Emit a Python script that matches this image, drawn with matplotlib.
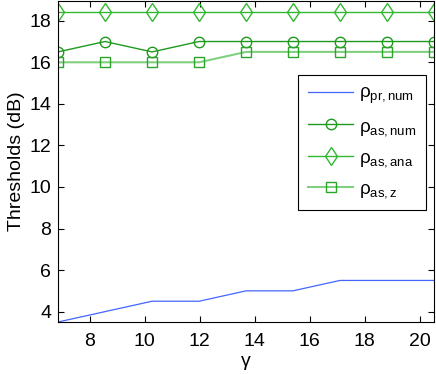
import matplotlib
matplotlib.use("Agg")
import matplotlib.pyplot as plt
import numpy as np

plt.rcParams['font.family'] = ['Liberation Sans', 'DejaVu Sans']
plt.rcParams['mathtext.fontset'] = 'custom'
plt.rcParams['mathtext.rm'] = 'Liberation Sans'
plt.rcParams['mathtext.it'] = 'Liberation Sans'

# gamma values (x axis)
gamma = [6.85, 8.56, 10.27, 11.98, 13.69, 15.39, 17.10, 18.81, 20.52]
# thresholds in dB
rho_pr_num = [3.5, 4.0, 4.5, 4.5, 5.0, 5.0, 5.5, 5.5, 5.5]
rho_as_num = [16.5, 17.0, 16.5, 17.0, 17.0, 17.0, 17.0, 17.0, 17.0]
rho_as_ana = [18.42, 18.42, 18.42, 18.42, 18.42, 18.42, 18.42, 18.42, 18.42]
rho_as_z = [16.0, 16.0, 16.0, 16.0, 16.5, 16.5, 16.5, 16.5, 16.5]

fig = plt.figure(figsize=(4.36, 3.74), dpi=100)
ax = fig.add_axes([58/436, 52/374, 376/436, 321/374])

ax.plot(gamma, rho_pr_num, '-', color='#4466ff', lw=0.9, label=r'ρ$_{\mathrm{pr,num}}$')
ax.plot(gamma, rho_as_num, '-o', color='#1f9a1f', lw=1, ms=7.5, mfc='none',
        label=r'ρ$_{\mathrm{as,num}}$')
ax.plot(gamma, rho_as_ana, '-d', color='#33b833', lw=1, ms=9.5, mfc='none',
        label=r'ρ$_{\mathrm{as,ana}}$')
ax.plot(gamma, rho_as_z, '-s', color='#80d080', lw=1.5, ms=6.5, mfc='none',
        mec='#2aa52a', label=r'ρ$_{\mathrm{as,z}}$')

ax.set_xlim(gamma[0], gamma[-1])
ax.set_ylim(3.5, 18.95)
ax.set_xticks([8, 10, 12, 14, 16, 18, 20])
ax.set_yticks([4, 6, 8, 10, 12, 14, 16, 18])
ax.tick_params(direction='in', top=True, right=True, labelsize=14, length=4)
ax.tick_params(axis='x', pad=8)
ax.tick_params(axis='y', pad=5)
ax.set_xlabel('γ', fontsize=14, labelpad=2)
ax.set_ylabel('Thresholds (dB)', fontsize=14, labelpad=3)

leg = ax.legend(loc='upper left', bbox_to_anchor=(0.638, 0.77), fontsize=13.5,
                handlelength=2.4, handletextpad=0.3, labelspacing=0.62,
                borderpad=0.55, fancybox=False, edgecolor='black',
                framealpha=1, borderaxespad=0)
leg.get_frame().set_linewidth(0.8)

fig.savefig('out.png', dpi=100)
